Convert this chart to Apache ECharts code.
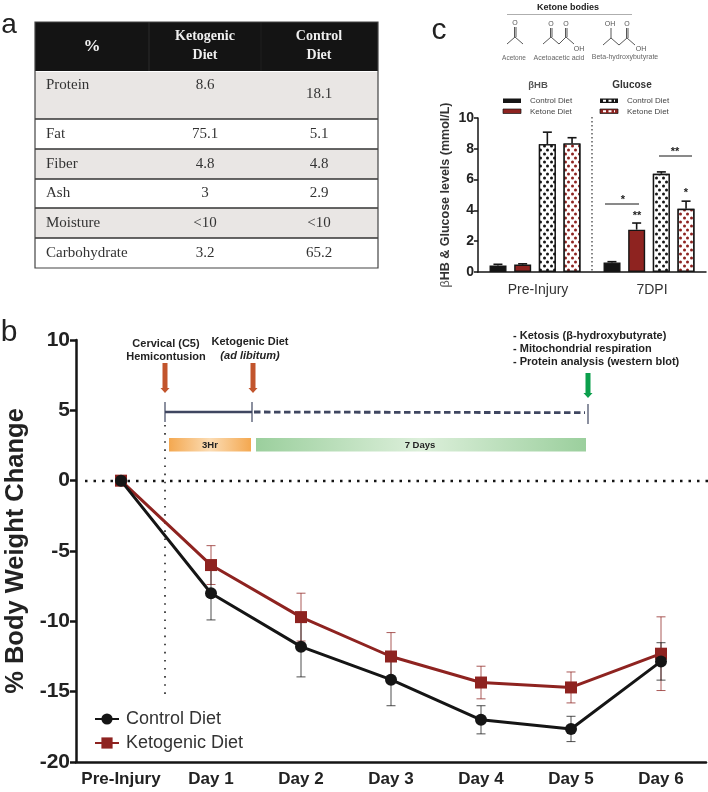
<!DOCTYPE html>
<html>
<head>
<meta charset="utf-8">
<title>Ketogenic diet figure</title>
<script src="https://cdn.jsdelivr.net/npm/echarts@6/dist/echarts.min.js"></script>
<style>
  html, body { margin: 0; padding: 0; background: #fff; }
  #main { width: 708px; height: 792px; }
</style>
</head>
<body>
<div id="main"></div>
<script>
// panel a - diet table
const tableHead = ["%", ["Ketogenic", "Diet"], ["Control", "Diet"]]
const tableNames = ["Protein", "Fat", "Fiber", "Ash", "Moisture", "Carbohydrate"]
const tableKeto = ["8.6", "75.1", "4.8", "3", "<10", "3.2"]
const tableControl = ["18.1", "5.1", "4.8", "2.9", "<10", "65.2"]

// panel b - body weight
const days = ["Pre-Injury", "Day 1", "Day 2", "Day 3", "Day 4", "Day 5", "Day 6"]
const controlWeight = [0, -8.0, -11.8, -14.15, -17.0, -17.65, -12.85]
const ketoWeight = [0, -6.0, -9.7, -12.5, -14.35, -14.7, -12.3]
const controlErr = [0, 1.9, 2.15, 1.85, 1.0, 0.9, 1.33]
const ketoErr = [0, 1.38, 1.7, 1.7, 1.16, 1.1, 2.62]

// panel c - bHB and glucose
const timepoints = ["Pre-Injury", "7DPI"]
const hbControl = [0.42, 0.62]
const hbKetone = [0.48, 2.75]
const glucoseControl = [8.3, 6.38]
const glucoseKetone = [8.35, 4.1]
const hbControlErr = [0.08, 0.05]
const hbKetoneErr = [0.05, 0.43]
const glucoseControlErr = [0.78, 0.12]
const glucoseKetoneErr = [0.37, 0.5]

const BLACK = "#151515"
const RED = "#8e2320"
const SANS = '"Liberation Sans", Arial, sans-serif'
const SERIF = '"Liberation Serif", Georgia, serif'

const chart = echarts.init(document.getElementById("main"))

function txt(text, x, y, font, fill, align) {
  return {
    type: "text",
    silent: true,
    style: { text, x, y, font, fill: fill || "#222", textAlign: align || "center", textVerticalAlign: "middle" },
  }
}
function rect(x, y, w, h, fill, extra) {
  return { type: "rect", silent: true, shape: { x, y, width: w, height: h }, style: Object.assign({ fill }, extra) }
}
function line(x1, y1, x2, y2, stroke, width, dash) {
  return {
    type: "line",
    silent: true,
    shape: { x1, y1, x2, y2 },
    style: { stroke, lineWidth: width, lineDash: dash || null },
  }
}

// table is drawn on the same canvas
function tableElements() {
  const els = []
  const left = 35, right = 378
  const rowY = [72, 119, 149, 179, 208, 238, 268]
  const col2 = 205, col3 = 319
  els.push(rect(left, 22, right - left, 49, "#141414"))
  els.push(line(149, 22, 149, 71, "#2b2b2b", 1))
  els.push(line(261, 22, 261, 71, "#1f1f1f", 1))
  els.push(txt(tableHead[0], 92, 47, "bold 17px " + SERIF, "#f2f2f2"))
  tableHead[1].forEach((t, i) => els.push(txt(t, col2, 36 + i * 19, "bold 14px " + SERIF, "#efefef")))
  tableHead[2].forEach((t, i) => els.push(txt(t, col3, 36 + i * 19, "bold 14px " + SERIF, "#efefef")))
  tableNames.forEach((name, i) => {
    const top = rowY[i], bottom = rowY[i + 1]
    if (i % 2 === 0 && i < 5) els.push(rect(left, top, right - left, bottom - top, "#e9e6e4"))
    const mid = i === 0 ? 85 : (top + bottom) / 2
    els.push(txt(name, 46, mid, "15px " + SERIF, "#333", "left"))
    els.push(txt(tableKeto[i], col2, mid, "15px " + SERIF, "#333"))
    els.push(txt(tableControl[i], col3, i === 0 ? 94 : mid, "15px " + SERIF, "#333"))
  })
  rowY.slice(1, 6).forEach((y) => els.push(line(left, y, right, y, "#333", 1.5)))
  els.push(rect(left, 22, right - left, 246, "none", { stroke: "#444", lineWidth: 1.2 }))
  return els
}

// ketone body structures above panel c
function moleculeElements() {
  const els = []
  const bond = (pts) => ({
    type: "polyline",
    silent: true,
    shape: { points: pts },
    style: { stroke: "#444", lineWidth: 0.9, fill: "none" },
  })
  const small = "7px " + SANS
  els.push(txt("Ketone bodies", 568, 8, "bold 9px " + SANS, "#222"))
  els.push(line(507, 14.5, 632, 14.5, "#999", 0.8))
  // acetone
  els.push(bond([[507, 44], [515, 37], [523, 44]]))
  els.push(bond([[514.5, 37], [514.5, 27]]), bond([[516, 37], [516, 27]]))
  els.push(txt("O", 515, 23, small, "#555"))
  els.push(txt("Acetone", 514, 58, "6.5px " + SANS, "#666"))
  // acetoacetic acid
  els.push(bond([[543, 44], [551, 37], [559, 44], [566, 37], [574, 44]]))
  els.push(bond([[550.5, 37], [550.5, 28]]), bond([[552, 37], [552, 28]]))
  els.push(bond([[565.5, 37], [565.5, 28]]), bond([[567, 37], [567, 28]]))
  els.push(txt("O", 551, 24, small, "#555"), txt("O", 566, 24, small, "#555"), txt("OH", 579, 49, small, "#555"))
  els.push(txt("Acetoacetic acid", 559, 58, small, "#666"))
  // beta-hydroxybutyrate
  els.push(bond([[603, 45], [611, 38], [619, 45], [627, 38], [635, 45]]))
  els.push(bond([[611, 38], [611, 28]]))
  els.push(bond([[626.5, 38], [626.5, 28]]), bond([[628, 38], [628, 28]]))
  els.push(txt("OH", 610, 24, small, "#555"), txt("O", 627, 24, small, "#555"), txt("OH", 641, 49, small, "#555"))
  els.push(txt("Beta-hydroxybutyrate", 625, 57.5, small, "#666"))
  return els
}

// headings, legend, brackets of panel c
function panelCElements() {
  const els = []
  els.push(txt("βHB", 538, 85, "bold 9.5px " + SANS, "#555"))
  els.push(txt("Glucose", 632, 85, "bold 10px " + SANS, "#333"))
  els.push(rect(503, 98.5, 18, 4.5, BLACK))
  els.push(rect(503, 109, 18, 4.5, RED, { stroke: BLACK, lineWidth: 0.7 }))
  els.push(rect(600, 98.5, 18, 4.5, BLACK))
  els.push(line(603, 100.7, 615, 100.7, "#fff", 2, [3, 2.5]))
  els.push(rect(600, 109, 18, 4.5, RED, { stroke: BLACK, lineWidth: 0.7 }))
  els.push(line(603, 111.2, 615, 111.2, "#fff", 2, [3, 2.5]))
  const lg = "8px " + SANS
  els.push(txt("Control Diet", 530, 100.5, lg, "#444", "left"), txt("Ketone Diet", 530, 111.5, lg, "#444", "left"))
  els.push(txt("Control Diet", 627, 100.5, lg, "#444", "left"), txt("Ketone Diet", 627, 111.5, lg, "#444", "left"))
  els.push(line(592, 117, 592, 272, "#333", 1.2, [1.5, 2.5]))
  els.push(line(605, 204, 639, 204, BLACK, 1))
  els.push(line(659, 156, 692, 156, BLACK, 1))
  const star = "bold 11px " + SANS
  els.push(txt("*", 623, 200, star), txt("**", 675, 152, star), txt("**", 637, 216, star), txt("*", 686, 193, star))
  return els
}

function arrow(x, y1, y2, color) {
  return {
    type: "polygon",
    silent: true,
    shape: {
      points: [
        [x - 2.5, y1], [x + 2.5, y1], [x + 2.5, y2 - 5], [x + 4.5, y2 - 5],
        [x, y2], [x - 4.5, y2 - 5], [x - 2.5, y2 - 5],
      ],
    },
    style: { fill: color },
  }
}
function glow(c1, c2) {
  return {
    type: "linear", x: 0, y: 0, x2: 1, y2: 0,
    colorStops: [{ offset: 0, color: c1 }, { offset: 0.5, color: c2 }, { offset: 1, color: c1 }],
  }
}

// experiment timeline at the top of panel b
function timelineElements() {
  const els = []
  const lab = "bold 11px " + SANS
  els.push(line(85, 481, 708, 481, BLACK, 2.5, [2.5, 6]))
  els.push(line(165, 425, 165, 700, "#222", 1.6, [1.6, 6.5]))
  els.push(txt("Cervical (C5)", 166, 344, lab), txt("Hemicontusion", 166, 357, lab))
  els.push(txt("Ketogenic Diet", 250, 342, lab), txt("(ad libitum)", 250, 356, "italic bold 11px " + SANS))
  els.push(arrow(165, 363, 393, "#c2542c"), arrow(253, 363, 393, "#c2542c"), arrow(588, 373, 398, "#0b9f4c"))
  els.push(txt("- Ketosis (β-hydroxybutyrate)", 513, 336, lab, "#222", "left"))
  els.push(txt("- Mitochondrial respiration", 513, 349, lab, "#222", "left"))
  els.push(txt("- Protein analysis (western blot)", 513, 362, lab, "#222", "left"))
  els.push(line(165, 412, 252, 412, "#3f4660", 2.5))
  els.push(line(254, 412, 585, 412.7, "#3f4660", 2.8, [6.5, 3.5]))
  els.push(line(165, 402, 165, 422, "#3f4660", 1.2), line(252, 402, 252, 422, "#3f4660", 1.2), line(588, 404, 588, 424, "#3f4660", 1.2))
  els.push(rect(169, 438, 82, 13.5, glow("#f4a850", "#fbdcb4")))
  els.push(rect(256, 438, 330, 13.5, glow("#9bcf9d", "#dcefda")))
  els.push(txt("3Hr", 210, 445, "bold 9.5px " + SANS), txt("7 Days", 420, 445, "bold 9.5px " + SANS))
  return els
}

function dots(color) {
  return {
    symbol: "circle",
    symbolSize: 1,
    color,
    backgroundColor: "#fff",
    dashArrayX: [[3, 4], [0, 4, 3, 0]],
    dashArrayY: [4, 0],
    rotation: 0,
  }
}

// vertical error bar with caps, drawn from the value scale
function errorItem(params, api, xShift, color, capHalf, width, bothWays) {
  const i = api.value(0)
  const mean = api.coord([i, api.value(1)])
  const hi = api.coord([i, api.value(2)])
  const lo = api.coord([i, api.value(3)])
  const x = mean[0] + xShift(api)
  const style = { stroke: color, lineWidth: width, fill: "none" }
  const kids = [
    { type: "line", shape: { x1: x, y1: bothWays ? lo[1] : mean[1], x2: x, y2: hi[1] }, style },
    { type: "line", shape: { x1: x - capHalf, y1: hi[1], x2: x + capHalf, y2: hi[1] }, style },
  ]
  if (bothWays) kids.push({ type: "line", shape: { x1: x - capHalf, y1: lo[1], x2: x + capHalf, y2: lo[1] }, style })
  return { type: "group", children: kids }
}
function weightErrors(values, errs, color) {
  return {
    type: "custom",
    xAxisIndex: 0,
    yAxisIndex: 0,
    z: 1,
    silent: true,
    encode: { x: 0, y: [1, 2, 3] },
    data: values.map((v, i) => [i, v, v + errs[i], v - errs[i]]).filter((d) => d[1] !== 0),
    renderItem: (p, api) => errorItem(p, api, () => 0, color, 4.5, 1, true),
  }
}
function barErrors(values, errs, slot) {
  return {
    type: "custom",
    xAxisIndex: 1,
    yAxisIndex: 1,
    z: 1,
    silent: true,
    encode: { x: 0, y: [1, 2, 3] },
    data: values.map((v, i) => [i, v, v + errs[i], v]),
    renderItem: (p, api) =>
      errorItem(p, api, (a) => (slot - 1.5) * 0.2167 * a.size([1, 0])[0], BLACK, 4.5, 1.6, false),
  }
}
function barSeries(name, values, style) {
  return {
    name,
    type: "bar",
    xAxisIndex: 1,
    yAxisIndex: 1,
    barWidth: 17,
    barGap: "45%",
    z: 2,
    data: values,
    itemStyle: Object.assign({ borderColor: BLACK, borderWidth: 1.4 }, style),
  }
}

const option = {
  animation: false,
  backgroundColor: "#fff",
  textStyle: { fontFamily: SANS },
  grid: [
    { left: 76, top: 340, width: 630, height: 422, outerBoundsMode: "none" },
    { left: 478, top: 118, width: 228, height: 154, outerBoundsMode: "none" },
  ],
  xAxis: [
    {
      type: "category",
      gridIndex: 0,
      data: days,
      axisLine: { onZero: false, lineStyle: { color: BLACK, width: 2.5 } },
      axisTick: { alignWithLabel: true, length: 6, lineStyle: { color: BLACK, width: 2.5 } },
      axisLabel: { color: "#222", fontWeight: "bold", fontSize: 17, margin: 9, interval: 0 },
    },
    {
      type: "category",
      gridIndex: 1,
      data: timepoints,
      axisLine: { lineStyle: { color: BLACK, width: 1.5 } },
      axisTick: { show: false },
      axisLabel: { color: "#333", fontSize: 14, margin: 11, padding: [0, 0, 0, 6] },
    },
  ],
  yAxis: [
    {
      type: "value",
      gridIndex: 0,
      min: -20,
      max: 10,
      interval: 5,
      name: "% Body Weight Change",
      nameLocation: "middle",
      nameGap: 45,
      nameTextStyle: { color: "#222", fontWeight: "bold", fontSize: 25.5 },
      splitLine: { show: false },
      axisLine: { show: true, onZero: false, lineStyle: { color: BLACK, width: 2.5 } },
      axisTick: { show: true, length: 6, lineStyle: { color: BLACK, width: 2.5 } },
      axisLabel: { color: "#222", fontWeight: "bold", fontSize: 21, margin: 6 },
    },
    {
      type: "value",
      gridIndex: 1,
      min: 0,
      max: 10,
      interval: 2,
      name: "{b|β}HB & Glucose levels (mmol/L)",
      nameLocation: "middle",
      nameGap: 26,
      nameTextStyle: {
        color: "#333",
        fontWeight: "bold",
        fontSize: 12.5,
        rich: { b: { fontSize: 12.5, color: "#555", fontWeight: "normal" } },
      },
      splitLine: { show: false },
      axisLine: { show: true, lineStyle: { color: BLACK, width: 1.5 } },
      axisTick: { show: true, length: 4, lineStyle: { color: BLACK, width: 1.5 } },
      axisLabel: { color: "#222", fontWeight: "bold", fontSize: 14, margin: 4 },
    },
  ],
  legend: {
    data: ["Control Diet", "Ketogenic Diet"],
    orient: "vertical",
    left: 89,
    top: 705,
    itemWidth: 24,
    itemHeight: 14,
    itemGap: 6,
    textStyle: { color: "#333", fontSize: 18, padding: [0, 0, 0, 2] },
  },
  series: [
    weightErrors(ketoWeight, ketoErr, "rgba(142,35,32,0.75)"),
    weightErrors(controlWeight, controlErr, "rgba(20,20,20,0.75)"),
    {
      name: "Ketogenic Diet",
      type: "line",
      z: 3,
      data: ketoWeight,
      symbol: "rect",
      symbolSize: 12,
      lineStyle: { color: RED, width: 3 },
      itemStyle: { color: RED },
    },
    {
      name: "Control Diet",
      type: "line",
      z: 4,
      data: controlWeight,
      symbol: "circle",
      symbolSize: 12,
      lineStyle: { color: BLACK, width: 3 },
      itemStyle: { color: BLACK },
    },
    barErrors(hbControl, hbControlErr, 0),
    barErrors(hbKetone, hbKetoneErr, 1),
    barErrors(glucoseControl, glucoseControlErr, 2),
    barErrors(glucoseKetone, glucoseKetoneErr, 3),
    barSeries("βHB control", hbControl, { color: BLACK }),
    barSeries("βHB ketone", hbKetone, { color: RED }),
    barSeries("Glucose control", glucoseControl, { color: "#fff", decal: dots(BLACK) }),
    barSeries("Glucose ketone", glucoseKetone, { color: "#fff", decal: dots(RED) }),
  ],
  graphic: {
    elements: [
      txt("a", 9, 25, "28px " + SANS, "#222"),
      txt("b", 9, 333, "30px " + SANS, "#222"),
      txt("c", 439, 31, "30px " + SANS, "#222"),
      ...tableElements(),
      ...moleculeElements(),
      ...panelCElements(),
      ...timelineElements(),
    ],
  },
}

chart.setOption(option)
</script>
</body>
</html>
